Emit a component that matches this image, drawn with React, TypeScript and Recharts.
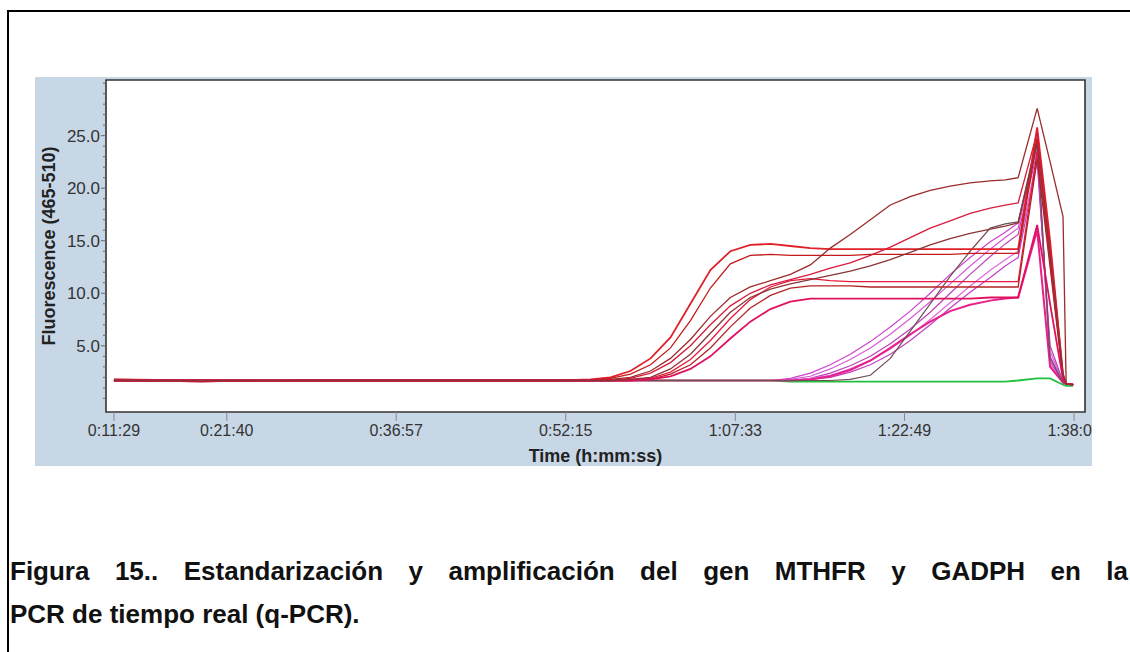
import React from 'react';
import { LineChart, Line, XAxis, YAxis, CartesianGrid, ReferenceArea, Label } from 'recharts';

// time of each reading, in seconds
const timeSec = [689, 1160, 1700, 2241, 2782, 3107, 3269, 3377, 3485, 3594, 3702, 3810, 3918, 4026, 4134, 4243, 4351, 4459, 4567, 4675, 4784, 4892, 5000, 5108, 5216, 5324, 5433, 5514, 5584, 5687, 5757, 5827, 5844, 5882];

// early (red) group
const red1 = [1.8, 1.7, 1.7, 1.7, 1.7, 1.7, 1.8, 2.0, 2.6, 3.8, 5.8, 9.0, 12.2, 14.0, 14.6, 14.7, 14.5, 14.3, 14.2, 14.2, 14.2, 14.2, 14.2, 14.2, 14.2, 14.2, 14.2, 14.2, 14.2, 25.8, 15.0, 2.2, 1.4, 1.3];
const red2 = [1.7, 1.6, 1.7, 1.7, 1.7, 1.7, 1.7, 1.9, 2.3, 3.2, 4.8, 7.4, 10.5, 12.8, 13.6, 13.7, 13.6, 13.6, 13.6, 13.6, 13.7, 13.7, 13.7, 13.7, 13.7, 13.8, 13.8, 13.8, 13.8, 24.8, 14.0, 2.0, 1.4, 1.3];
const red3 = [1.8, 1.7, 1.7, 1.7, 1.7, 1.7, 1.7, 1.8, 2.0, 2.6, 3.8, 5.6, 7.8, 9.6, 10.6, 11.2, 11.8, 12.7, 14.3, 15.6, 17.0, 18.4, 19.2, 19.8, 20.2, 20.5, 20.7, 20.8, 21.0, 27.6, 22.5, 17.3, 1.4, 1.3];
const red4 = [1.7, 1.7, 1.7, 1.7, 1.7, 1.7, 1.7, 1.7, 1.9, 2.4, 3.4, 5.0, 7.0, 8.8, 10.0, 10.8, 11.3, 11.8, 12.4, 12.9, 13.6, 14.4, 15.3, 16.2, 16.9, 17.6, 18.1, 18.4, 18.6, 25.3, 14.5, 2.4, 1.4, 1.3];
const red5 = [1.7, 1.7, 1.7, 1.7, 1.7, 1.7, 1.7, 1.7, 1.8, 1.9, 2.5, 3.7, 5.5, 7.6, 9.4, 10.6, 11.2, 11.4, 11.2, 11.1, 11.1, 11.1, 11.1, 11.1, 11.1, 11.1, 11.1, 11.1, 11.1, 23.5, 13.0, 2.0, 1.4, 1.3];
const red6 = [1.7, 1.6, 1.7, 1.7, 1.7, 1.7, 1.7, 1.7, 1.7, 1.8, 2.3, 3.2, 4.8, 6.8, 8.6, 9.8, 10.5, 10.7, 10.7, 10.7, 10.6, 10.6, 10.6, 10.6, 10.6, 10.6, 10.6, 10.6, 10.6, 22.8, 12.5, 1.9, 1.4, 1.3];
const red7 = [1.7, 1.7, 1.7, 1.7, 1.7, 1.7, 1.7, 1.7, 1.7, 1.8, 2.1, 2.8, 4.0, 5.7, 7.3, 8.5, 9.2, 9.5, 9.5, 9.5, 9.5, 9.5, 9.5, 9.5, 9.5, 9.5, 9.6, 9.6, 9.6, 16.5, 9.0, 1.8, 1.4, 1.3];
const red8 = [1.7, 1.7, 1.7, 1.7, 1.7, 1.7, 1.7, 1.7, 1.8, 2.0, 2.8, 4.2, 6.2, 8.2, 9.6, 10.4, 10.9, 11.3, 11.7, 12.1, 12.6, 13.2, 13.9, 14.6, 15.2, 15.7, 16.1, 16.4, 16.7, 24.2, 13.5, 2.2, 1.4, 1.3];

// late (magenta) group
const mag1 = [1.7, 1.6, 1.7, 1.7, 1.7, 1.7, 1.7, 1.7, 1.7, 1.7, 1.7, 1.7, 1.7, 1.7, 1.7, 1.7, 1.9, 2.4, 3.2, 4.2, 5.4, 6.8, 8.3, 10.0, 11.8, 13.4, 14.9, 15.8, 16.7, 24.5, 3.5, 1.5, 1.4, 1.3];
const mag2 = [1.7, 1.7, 1.7, 1.7, 1.7, 1.7, 1.7, 1.7, 1.7, 1.7, 1.7, 1.7, 1.7, 1.7, 1.7, 1.7, 1.8, 2.1, 2.8, 3.7, 4.8, 6.1, 7.6, 9.2, 10.9, 12.6, 14.2, 15.3, 16.2, 24.0, 3.2, 1.5, 1.4, 1.3];
const mag3 = [1.7, 1.7, 1.7, 1.7, 1.7, 1.7, 1.7, 1.7, 1.7, 1.7, 1.7, 1.7, 1.7, 1.7, 1.7, 1.7, 1.7, 1.9, 2.4, 3.1, 4.0, 5.2, 6.6, 8.2, 10.0, 11.8, 13.5, 14.7, 15.6, 23.5, 4.0, 1.5, 1.4, 1.3];
const mag4 = [1.7, 1.7, 1.7, 1.7, 1.7, 1.7, 1.7, 1.7, 1.7, 1.7, 1.7, 1.7, 1.7, 1.7, 1.7, 1.7, 1.7, 1.9, 2.2, 2.8, 3.6, 4.7, 6.0, 7.5, 9.1, 10.7, 12.2, 13.2, 14.0, 23.0, 4.5, 1.5, 1.4, 1.3];
const mag5 = [1.7, 1.7, 1.7, 1.7, 1.7, 1.7, 1.7, 1.7, 1.7, 1.7, 1.7, 1.7, 1.7, 1.7, 1.7, 1.7, 1.7, 1.8, 2.0, 2.5, 3.2, 4.2, 5.5, 7.0, 8.6, 10.1, 11.5, 12.6, 13.4, 22.5, 5.0, 1.6, 1.4, 1.3];
const mag6 = [1.7, 1.7, 1.7, 1.7, 1.7, 1.7, 1.7, 1.7, 1.7, 1.7, 1.7, 1.7, 1.7, 1.7, 1.7, 1.7, 1.7, 1.8, 2.1, 2.7, 3.6, 4.8, 6.1, 7.3, 8.3, 8.9, 9.3, 9.5, 9.6, 16.0, 3.0, 1.5, 1.4, 1.3];
const mag7 = [1.7, 1.7, 1.7, 1.7, 1.7, 1.7, 1.7, 1.7, 1.7, 1.7, 1.7, 1.7, 1.7, 1.7, 1.7, 1.7, 1.7, 1.7, 1.7, 1.8, 2.2, 3.8, 6.4, 9.0, 11.6, 14.0, 16.2, 16.6, 16.8, 24.8, 3.8, 1.5, 1.4, 1.3];

// negative control
const negCtrl = [1.7, 1.7, 1.7, 1.7, 1.7, 1.7, 1.7, 1.7, 1.7, 1.7, 1.7, 1.7, 1.7, 1.7, 1.7, 1.7, 1.6, 1.6, 1.6, 1.6, 1.6, 1.6, 1.6, 1.6, 1.6, 1.6, 1.6, 1.6, 1.7, 1.9, 1.9, 1.3, 1.2, 1.2];

const xTicks = [689, 1300, 2217, 3135, 4053, 4969, 5887];
const yMajor = [5, 10, 15, 20, 25];
const yTicks = Array.from({ length: 31 }, (_, i) => i);

const redSeries = [red1, red2, red3, red4, red5, red6, red7, red8];
const redColors = ['#e0202a', '#c41a1a', '#9c2b2b', '#d81b3c', '#e8193f', '#b22222', '#e0115f', '#8a3535'];
const magSeries = [mag1, mag2, mag3, mag4, mag5, mag6, mag7];
const magColors = ['#cc44cc', '#d65ad6', '#b844b8', '#e066e0', '#c23fc2', '#e8208a', '#6f4f55'];

const rows = timeSec.map((t, i) => {
  const row: any = { t, neg: negCtrl[i] };
  redSeries.forEach((s, k) => (row['r' + k] = s[i]));
  magSeries.forEach((s, k) => (row['m' + k] = s[i]));
  return row;
});

const AXIS_FONT = "'Liberation Sans', Arial, sans-serif";

const fmtTime = (s: number) => {
  const h = Math.floor(s / 3600);
  const m = Math.floor((s % 3600) / 60);
  const sec = s % 60;
  return `${h}:${String(m).padStart(2, '0')}:${String(sec).padStart(2, '0')}`;
};

const YTick = (props: any) => {
  const { x, y, payload } = props;
  const major = yMajor.includes(payload.value);
  return (
    <g>
      <line x1={x - (major ? 5 : 3)} x2={x} y1={y} y2={y} stroke="#666" strokeWidth={1} />
      {major && (
        <text x={x - 6} y={y} dy="0.36em" textAnchor="end" fontSize={17} fontFamily={AXIS_FONT} fill="#333">
          {payload.value.toFixed(1)}
        </text>
      )}
    </g>
  );
};

const XTick = (props: any) => {
  const { x, y, payload } = props;
  return (
    <g>
      <line x1={x} x2={x} y1={y} y2={y + 9} stroke="#888" strokeWidth={1} />
      <text x={x} y={y + 24} textAnchor="middle" fontSize={16} fontFamily={AXIS_FONT} fill="#333">
        {fmtTime(payload.value)}
      </text>
    </g>
  );
};

export default function App() {
  return (
    <div style={{ position: 'absolute', left: 0, top: 0, width: 1130, height: 652, overflow: 'hidden', background: '#fff' }}>
      <div style={{ position: 'absolute', left: 7, top: 10, width: 2, height: 642, background: '#000' }} />
      <div style={{ position: 'absolute', left: 7, top: 10, width: 1123, height: 2, background: '#000' }} />
      <div style={{ position: 'absolute', left: 35, top: 77, width: 1057, height: 389, background: '#c8d7e6' }}>
        <LineChart width={1057} height={389} data={rows} margin={{ top: 3, right: 7, bottom: 0, left: 0 }}>
          <CartesianGrid fill="#ffffff" horizontal={false} vertical={false} />
          <XAxis
            dataKey="t"
            type="number"
            domain={[646, 5946]}
            allowDataOverflow
            ticks={xTicks}
            interval={0}
            height={54}
            axisLine={false}
            tickLine={false}
            tickSize={0}
            tickMargin={0}
            tick={<XTick />}
          >
            <Label
              content={({ viewBox }: any) => (
                <text x={viewBox.x + viewBox.width / 2} y={viewBox.y + 50} textAnchor="middle" fontSize={18} fontWeight="bold" fontFamily={AXIS_FONT} fill="#222">
                  Time (h:mm:ss)
                </text>
              )}
            />
          </XAxis>
          <YAxis
            type="number"
            domain={[-1.3, 30.3]}
            allowDataOverflow
            ticks={yTicks}
            interval={0}
            width={71}
            axisLine={false}
            tickLine={false}
            tickSize={0}
            tickMargin={0}
            tick={<YTick />}
          >
            <Label
              content={({ viewBox }: any) => {
                const cx = viewBox.x + 20;
                const cy = viewBox.y + viewBox.height / 2;
                return (
                  <text x={cx} y={cy} transform={`rotate(-90 ${cx} ${cy})`} textAnchor="middle" fontSize={18} fontWeight="bold" fontFamily={AXIS_FONT} fill="#222">
                    Fluorescence (465-510)
                  </text>
                );
              }}
            />
          </YAxis>
          <Line dataKey="neg" type="linear" stroke="#22c040" strokeWidth={1.8} dot={false} isAnimationActive={false} />
          {magSeries.map((_, k) => (
            <Line key={'m' + k} dataKey={'m' + k} type="linear" stroke={magColors[k]} strokeWidth={k === 5 ? 2 : 1.2} dot={false} isAnimationActive={false} />
          ))}
          {redSeries.map((_, k) => (
            <Line key={'r' + k} dataKey={'r' + k} type="linear" stroke={redColors[k]} strokeWidth={k === 0 || k === 6 ? 1.8 : 1.3} dot={false} isAnimationActive={false} />
          ))}
          <ReferenceArea x1={646} x2={5946} y1={-1.3} y2={30.3} fill="none" stroke="#333" strokeWidth={1.6} />
        </LineChart>
      </div>
      <div
        style={{
          position: 'absolute', left: 10, top: 556, width: 1118, fontFamily: "'Liberation Sans', Arial, sans-serif",
          fontWeight: 'bold', fontSize: 26, lineHeight: '30px', color: '#111', textAlign: 'justify', textAlignLast: 'justify', whiteSpace: 'nowrap',
        }}
      >
        Figura 15.. Estandarización y amplificación del gen MTHFR y GADPH en la
      </div>
      <div
        style={{
          position: 'absolute', left: 10, top: 599, fontFamily: "'Liberation Sans', Arial, sans-serif",
          fontWeight: 'bold', fontSize: 26, lineHeight: '30px', color: '#111', whiteSpace: 'nowrap',
        }}
      >
        PCR de tiempo real (q-PCR).
      </div>
    </div>
  );
}
